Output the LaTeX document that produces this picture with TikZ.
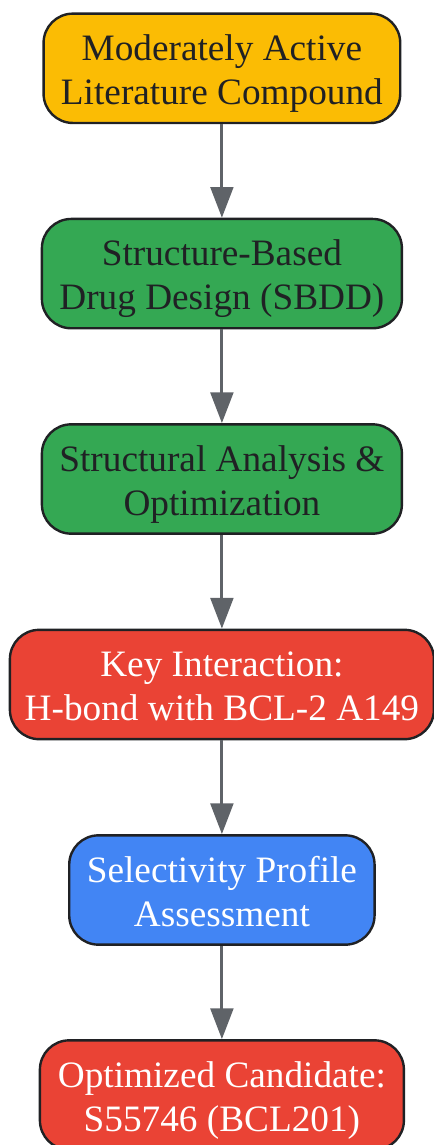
\documentclass[tikz,border=0pt]{standalone}
\usepackage{fontspec}
\setmainfont{Liberation Serif}
\usetikzlibrary{arrows.meta}
\definecolor{cyel}{HTML}{FBBC04}
\definecolor{cgrn}{HTML}{34A853}
\definecolor{cred}{HTML}{EA4335}
\definecolor{cblu}{HTML}{4285F4}
\definecolor{cedge}{HTML}{202124}
\definecolor{carr}{HTML}{5F6368}
\newcommand{\topstrut}{\rule{0pt}{29.2pt}}
\newcommand{\botstrut}{\rule[-8pt]{0pt}{8pt}}
\tikzset{
 x=0.75pt,y=-0.75pt,
 flowbox/.style={draw=cedge,line width=1.8pt,rounded corners=22pt,inner sep=0pt,align=center,font=\fontsize{27.95pt}{33pt}\selectfont,text=cedge,minimum height=82pt},
 light/.style={text=white},
 flowarrow/.style={draw=carr,line width=2.25pt,-{Triangle[length=23pt,width=17pt]}}
}
\begin{document}
\begin{tikzpicture}
\useasboundingbox (0,0) rectangle (433,1145);
\node[flowbox,fill=cyel,minimum width=267.5pt] (a) at (221.9,68.3) {\topstrut Moderately Active\\Literature Compound\botstrut};
\node[flowbox,fill=cgrn,minimum width=270pt] (b) at (221.9,273.6) {\topstrut Structure-Based\\Drug Design (SBDD)\botstrut};
\node[flowbox,fill=cgrn,minimum width=270pt] (c) at (221.9,479) {\topstrut Structural Analysis \&\\Optimization\botstrut};
\node[flowbox,fill=cred,light,minimum width=318pt] (d) at (221.9,684.5) {\topstrut Key Interaction:\\H-bond with BCL-2 A149\botstrut};
\node[flowbox,fill=cblu,light,minimum width=229pt] (e) at (221.9,890) {\topstrut Selectivity Profile\\Assessment\botstrut};
\node[flowbox,fill=cred,light,minimum width=273pt] (f) at (221.9,1095) {\topstrut Optimized Candidate:\\S55746 (BCL201)\botstrut};
\draw[flowarrow] (a) -- (b);
\draw[flowarrow] (b) -- (c);
\draw[flowarrow] (c) -- (d);
\draw[flowarrow] (d) -- (e);
\draw[flowarrow] (e) -- (f);
\end{tikzpicture}
\end{document}
